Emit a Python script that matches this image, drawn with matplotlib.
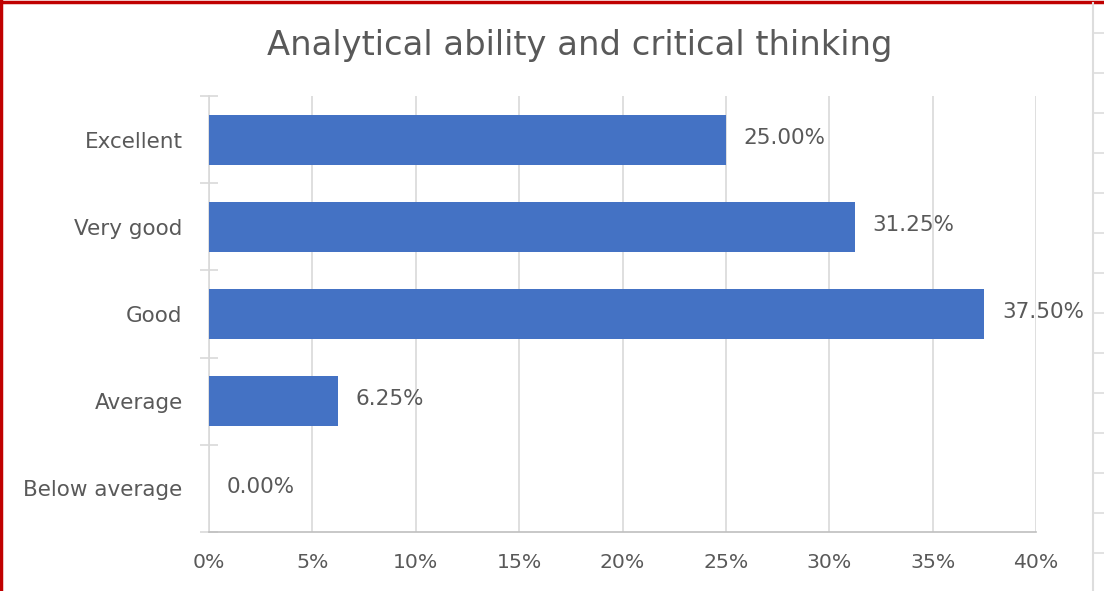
import matplotlib.pyplot as plt
from matplotlib.lines import Line2D
from matplotlib.ticker import FuncFormatter, MultipleLocator

# data
categories = ['Excellent', 'Very good', 'Good', 'Average', 'Below average']
shares = [25.00, 31.25, 37.50, 6.25, 0.00]
x_ticks = [0, 5, 10, 15, 20, 25, 30, 35, 40]

plt.rcParams['font.family'] = ['DejaVu Sans']
text_grey = '#595959'
grid_grey = '#d9d9d9'

fig = plt.figure(figsize=(11.04, 5.91), dpi=100)
ax = fig.add_axes([209 / 1104, 1 - 532 / 591, (1036 - 209) / 1104, (532 - 96) / 591])

pos = list(range(len(categories)))
ax.barh(pos, shares, height=0.575, color='#4472C4', zorder=3)
for p, v in zip(pos, shares):
    ax.text(v + 0.85, p - 0.02, f'{v:.2f}%', va='center', ha='left',
            fontsize=15.5, color=text_grey, zorder=4)

ax.set_xlim(0, 40)
ax.set_ylim(len(categories) - 0.5, -0.5)
ax.set_xticks(x_ticks)
ax.xaxis.set_major_formatter(FuncFormatter(lambda v, _: f'{v:.0f}%'))
ax.set_yticks(pos)
ax.set_yticklabels(categories, va='bottom')
ax.yaxis.set_minor_locator(MultipleLocator(1, offset=0.5))

ax.grid(axis='x', color=grid_grey, linewidth=1.2, zorder=0)
for s in ['top', 'right']:
    ax.spines[s].set_visible(False)
ax.spines['left'].set_color(grid_grey)
ax.spines['bottom'].set_color('#bfbfbf')
ax.spines['left'].set_linewidth(1.2)
ax.spines['bottom'].set_linewidth(1.2)

ax.tick_params(axis='x', length=0, pad=15, labelsize=14.7, labelcolor=text_grey)
ax.tick_params(axis='y', which='major', length=0, pad=19, labelsize=15.5, labelcolor=text_grey)
ax.tick_params(axis='y', which='minor', length=13, direction='inout', color=grid_grey, width=1.2)
# label baseline sits a little above the bar centre in the original
for lab in ax.get_yticklabels():
    lab.set_va('center_baseline')

fig.text(580 / 1104, 1 - 45 / 591, 'Analytical ability and critical thinking',
         ha='center', va='center', fontsize=24.3, color=text_grey)

# outer frame and spreadsheet lines around the chart
fig.add_artist(Line2D([0, 1], [1 - 2 / 591, 1 - 2 / 591], color='#c00000', linewidth=2.5))
fig.add_artist(Line2D([1 / 1104, 1 / 1104], [0, 1], color='#c00000', linewidth=2.5))
fig.add_artist(Line2D([1093 / 1104, 1093 / 1104], [0, 1 - 3 / 591], color='#dddddd', linewidth=1.5))
for yy in range(33, 591, 40):
    fig.add_artist(Line2D([1093 / 1104, 1], [1 - yy / 591, 1 - yy / 591], color='#dddddd', linewidth=1.2))

fig.savefig('out.png', dpi=100)
